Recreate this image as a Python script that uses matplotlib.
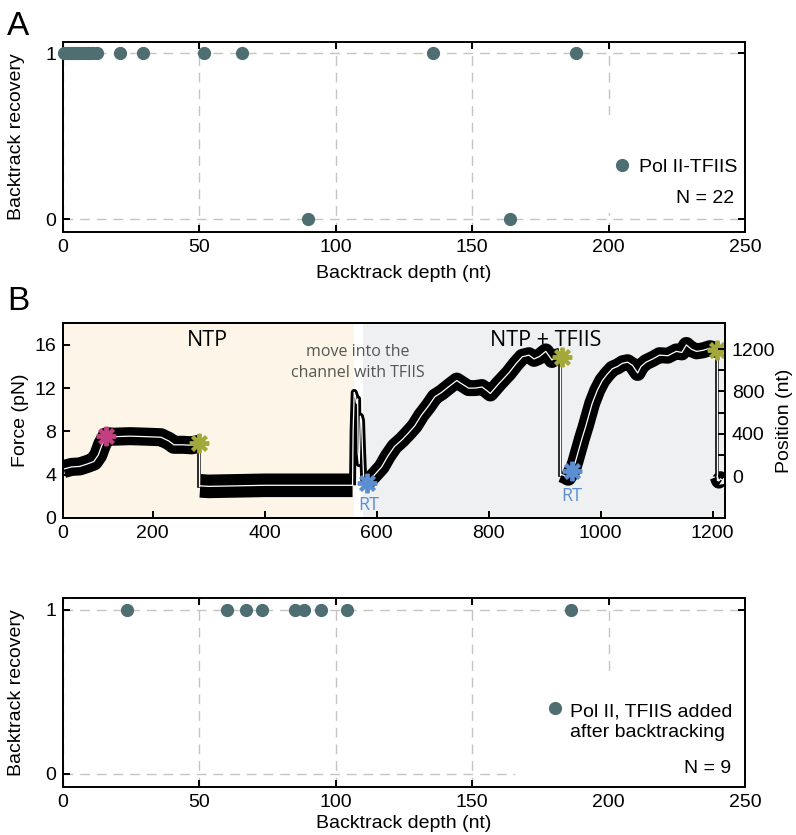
import numpy as np
import matplotlib

matplotlib.use("Agg")
import matplotlib.pyplot as plt
from matplotlib.patches import Rectangle

plt.rcParams["font.family"] = ["Liberation Sans", "DejaVu Sans"]

DOT = "#4f6e71"
GRID = "#c4c4c4"
HUMANIST = ["Open Sans", "DejaVu Sans"]

# Panel A: Pol II-TFIIS backtrack depth vs recovery
A_DEPTH = [0.3, 1.2, 2.0, 2.8, 3.6, 4.4, 5.2, 6.0, 7.0, 8.0, 9.0, 10.0, 11.0, 12.5,
           21.0, 29.3, 51.6, 65.7, 135.7, 187.9, 89.8, 164.0]
A_RECOVERY = [1, 1, 1, 1, 1, 1, 1, 1, 1, 1, 1, 1, 1, 1,
              1, 1, 1, 1, 1, 1, 0, 0]

# Panel C: Pol II, TFIIS added after backtracking
C_DEPTH = [23.6, 60.0, 67.0, 73.0, 85.0, 88.3, 94.6, 104.0, 186.2]
C_RECOVERY = [1, 1, 1, 1, 1, 1, 1, 1, 1]

# Panel B: trace (force axis units), split into segments between the jumps
SEG1_X = [41, 55, 70, 82, 95, 103, 110, 118, 130, 160, 190, 215, 229, 238, 255, 270, 283]
SEG1_Y = [4.5, 4.7, 4.75, 4.95, 5.2, 5.8, 6.8, 7.55, 7.5, 7.55, 7.5, 7.45, 7.1, 6.75, 6.75, 6.7, 6.85]
SEG2_X = [285, 300, 350, 400, 450, 500, 540, 557]
SEG2_Y = [2.95, 2.9, 2.95, 3.0, 3.0, 3.0, 3.0, 3.0]
SPIKE_X = [557, 558, 560, 562, 564, 566, 567, 569, 571, 573, 575, 577, 579]
SPIKE_Y = [3.0, 8.0, 11.6, 11.3, 10.6, 11.0, 6.0, 5.0, 9.4, 9.0, 6.0, 3.5, 3.1]
SEG3_X = [580, 595, 609, 620, 632, 645, 656, 668, 680, 692, 704, 716, 728, 743, 755,
          764, 776, 788, 796, 803, 818, 836, 848, 860, 872, 881, 890, 902, 913, 920, 928]
SEG3_Y = [3.1, 3.9, 4.7, 5.7, 6.6, 7.2, 7.8, 8.5, 9.5, 10.3, 11.2, 11.6, 12.1, 12.7, 12.3,
          12.0, 12.0, 12.1, 11.8, 11.5, 12.4, 13.4, 14.2, 14.9, 15.05, 14.7, 14.9, 15.4, 14.6, 14.9, 15.0]
SEG4_X = [930, 935, 942, 949.5, 955, 961, 967, 973, 979, 985, 994, 1003, 1012, 1021, 1030,
          1039, 1048, 1057, 1062, 1066, 1072, 1081, 1093, 1105, 1120, 1135, 1145, 1153, 1162,
          1171, 1183, 1195, 1202, 1208]
SEG4_Y = [4.0, 3.9, 3.7, 4.3, 5.2, 6.3, 7.4, 8.4, 9.5, 10.6, 11.8, 12.7, 13.3, 13.8, 14.0,
          14.3, 14.4, 14.1, 13.7, 13.4, 14.0, 14.4, 14.7, 15.05, 15.0, 15.4, 15.3, 16.0, 15.6,
          15.4, 15.5, 15.7, 15.6, 15.5]
SEG5_X = [1208, 1211, 1214, 1217]
SEG5_Y = [3.8, 3.4, 3.6, 3.5]
DROP_X = [283, 928, 1208]
DROP_TOP = [6.85, 15.0, 15.5]
DROP_BOTTOM = [2.9, 4.0, 3.5]

STAR_X = [117, 283, 582, 931.5, 949.5, 1208]
STAR_Y = [7.6, 6.9, 3.2, 14.9, 4.3, 15.5]
STAR_COLORS = ["#c2407f", "#a3a83a", "#5b8fd1", "#a3a83a", "#5b8fd1", "#a3a83a"]

FORCE_TICKS = [0, 4, 8, 12, 16]
POSITION_TICKS = [0, 400, 800, 1200]
TIME_TICKS = [40, 200, 400, 600, 800, 1000, 1200]
TIME_LABELS = ["0", "200", "400", "600", "800", "1000", "1200"]
DEPTH_TICKS = [0, 50, 100, 150, 200, 250]

FS = 14


def style_spines(ax):
    for sp in ax.spines.values():
        sp.set_linewidth(1.4)


def recovery_panel(ax, depth, recovery, label, n_text, key, n_pos, cover, xlabel_y):
    ax.set_xlim(0, 250)
    ax.set_ylim(-0.08, 1.07)
    ax.set_xticks(DEPTH_TICKS)
    ax.set_yticks([0, 1])
    ax.grid(True, color=GRID, lw=1.0, ls=(0, (7, 5)))
    ax.set_axisbelow(True)
    ax.tick_params(direction="in", length=5, width=1.4, top=True, right=True,
                   labelsize=FS, pad=5)
    # white box behind the key, hides the grid there as in the source figure
    cx0, cy0, cx1, cy1 = cover
    ax.add_patch(Rectangle((cx0, cy0), cx1 - cx0, cy1 - cy0, transform=ax.transAxes,
                           facecolor="white", edgecolor="none", zorder=1))
    ax.plot(depth, recovery, "o", ms=8.5, color=DOT, ls="", clip_on=False, zorder=3)
    mx, my, tx, ty = key
    ax.plot([mx], [my], "o", ms=8.5, color=DOT, transform=ax.transAxes, zorder=3)
    ax.text(tx, ty, label, transform=ax.transAxes, ha="left", va="baseline",
            fontsize=FS, linespacing=1.3)
    ax.text(n_pos[0], n_pos[1], n_text, transform=ax.transAxes, ha="right",
            va="baseline", fontsize=FS)
    ax.set_xlabel("Backtrack depth (nt)", fontsize=FS)
    ax.xaxis.set_label_coords(0.5, xlabel_y)
    ax.set_ylabel("Backtrack recovery", fontsize=FS)
    ax.yaxis.set_label_coords(-0.055, 0.5)
    style_spines(ax)


def draw_segment(ax, x, y, lw):
    ax.plot(x, y, color="black", lw=lw, solid_capstyle="butt", solid_joinstyle="round", zorder=3)
    ax.plot(x, y, color="white", lw=0.9, zorder=4)


fig = plt.figure(figsize=(7.96, 8.35), dpi=100)

axA = fig.add_axes([63 / 796, 1 - 232.3 / 835, 682 / 796, 190.6 / 835])
axB = fig.add_axes([63 / 796, 1 - 517.7 / 835, 662 / 796, 194.4 / 835])
axC = fig.add_axes([63 / 796, 1 - 786.7 / 835, 682 / 796, 188.4 / 835])

recovery_panel(axA, A_DEPTH, A_RECOVERY, "Pol II-TFIIS", "N = 22",
               (0.820, 0.353, 0.845, 0.318), (0.984, 0.152),
               (0.795, 0.10, 0.998, 0.615), -0.172)
recovery_panel(axC, C_DEPTH, C_RECOVERY, "Pol II, TFIIS added\nafter backtracking", "N = 9",
               (0.721, 0.419, 0.744, 0.262), (0.980, 0.071),
               (0.663, 0.005, 0.998, 0.58), -0.150)

# middle trace panel
axB.set_xlim(40, 1222)
axB.set_ylim(0, 18)
axB.axvspan(40, 559, color="#fdf6e8", lw=0, zorder=0)
axB.axvspan(576, 1222, color="#eff0f2", lw=0, zorder=0)

draw_segment(axB, SEG1_X, SEG1_Y, 13)
draw_segment(axB, SEG2_X, SEG2_Y, 17)
draw_segment(axB, SPIKE_X, SPIKE_Y, 5)
draw_segment(axB, SEG3_X, SEG3_Y, 11.5)
draw_segment(axB, SEG4_X, SEG4_Y, 11.5)
draw_segment(axB, SEG5_X, SEG5_Y, 11)
for xd, top, bot in zip(DROP_X, DROP_TOP, DROP_BOTTOM):
    axB.plot([xd, xd], [top, bot], color="black", lw=2.6, zorder=3)
    axB.plot([xd, xd], [top, bot], color="white", lw=1.0, zorder=4)
for xs, ys, c in zip(STAR_X, STAR_Y, STAR_COLORS):
    axB.plot(xs, ys, marker=(8, 2, 0), ms=14, mew=2.8, color=c, ls="", zorder=5)

axB.text(298, 16.4, "NTP", ha="center", va="center", fontsize=15.5, family=HUMANIST)
axB.text(901, 16.4, "NTP + TFIIS", ha="center", va="center", fontsize=15.5, family=HUMANIST)
axB.text(567, 14.4, "move into the\nchannel with TFIIS", ha="center", va="center",
         fontsize=11.5, color="#555555", family=HUMANIST, linespacing=1.4)
axB.text(586, 1.2, "RT", ha="center", va="center", fontsize=13, color="#5b8fd1", family=HUMANIST)
axB.text(947.6, 2.0, "RT", ha="center", va="center", fontsize=13, color="#5b8fd1", family=HUMANIST)

axB.set_xticks(TIME_TICKS)
axB.set_xticklabels(TIME_LABELS)
axB.set_yticks(FORCE_TICKS)
axB.tick_params(direction="in", length=5, width=1.4, labelsize=FS, pad=5)
axB.set_ylabel("Force (pN)", fontsize=FS)
axB.yaxis.set_label_coords(-0.052, 0.5)
style_spines(axB)

axB2 = axB.twinx()
axB2.set_ylim(-394, 1443)
axB2.set_yticks(POSITION_TICKS)
axB2.set_yticks([200, 600, 1000], minor=True)
axB2.tick_params(which="both", direction="in", length=5, width=1.4, labelsize=FS, pad=5)
axB2.set_ylabel("Position (nt)", fontsize=FS)
axB2.yaxis.set_label_coords(1.077, 0.5)
style_spines(axB2)

fig.text(7 / 796, 1 - 35 / 835, "A", fontsize=24, ha="left", va="baseline")
fig.text(7 / 796, 1 - 310 / 835, "B", fontsize=24, ha="left", va="baseline")

fig.savefig("out.png", dpi=100, facecolor="white")
